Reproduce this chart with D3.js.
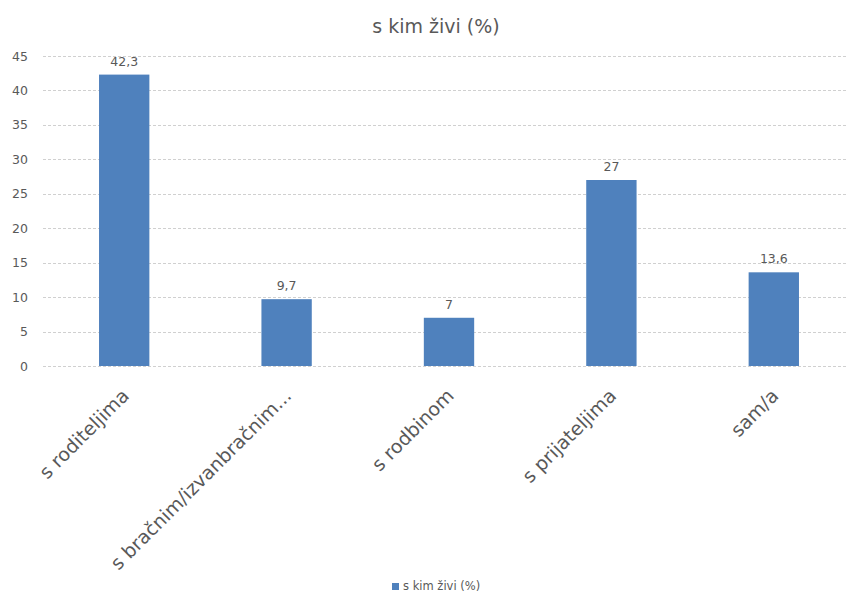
<!DOCTYPE html>
<html>
<head>
<meta charset="utf-8">
<script src="https://cdn.jsdelivr.net/npm/d3@7"></script>
<style>
  body { margin: 0; background: #fff; }
  svg { font-family: "DejaVu Sans", sans-serif; }
</style>
</head>
<body>
<svg id="chart" width="846" height="598"></svg>
<script>
// Living arrangement shares (%)
const categories = ["s roditeljima", "s bračnim/izvanbračnim...", "s rodbinom", "s prijateljima", "sam/a"];
const values = [42.3, 9.7, 7, 27, 13.6];
const valueLabels = ["42,3", "9,7", "7", "27", "13,6"];
const yTicks = [0, 5, 10, 15, 20, 25, 30, 35, 40, 45];
const seriesName = "s kim živi (%)";

const svg = d3.select("#chart");
const W = 846, H = 598;
const margin = { left: 43, right: -9, top: 56, bottom: 232 };
const font = "'DejaVu Sans', sans-serif";

const x = d3.scaleBand()
  .domain(categories)
  .range([margin.left, W - margin.right])
  .padding(0);

const y = d3.scaleLinear()
  .domain([0, 45])
  .range([H - margin.bottom, margin.top]);

const barW = x.step() * 0.31;
const grey = "#595959";
const barColor = "#4f81bd";

// Title
svg.append("text")
  .attr("x", 436).attr("y", 33)
  .attr("text-anchor", "middle")
  .attr("font-size", 19)
  .attr("fill", grey)
  .text(seriesName);

// Gridlines
svg.append("g")
  .selectAll("line")
  .data(yTicks)
  .join("line")
  .attr("x1", margin.left).attr("x2", W)
  .attr("y1", d => Math.round(y(d)) + 0.5)
  .attr("y2", d => Math.round(y(d)) + 0.5)
  .attr("stroke", "#d0d0d0")
  .attr("stroke-width", 1)
  .attr("stroke-dasharray", "3,2");

// Y axis labels
const yAxis = d3.axisLeft(y).tickValues(yTicks).tickSize(0).tickPadding(0);
svg.append("g")
  .attr("transform", "translate(28,0)")
  .call(yAxis)
  .call(g => g.select(".domain").remove())
  .call(g => g.selectAll("text")
    .attr("font-size", 12.5)
    .attr("fill", grey)
    .attr("font-family", font));

// Bars
svg.append("g")
  .selectAll("rect")
  .data(categories)
  .join("rect")
  .attr("x", d => x(d) + x.bandwidth() / 2 - barW / 2)
  .attr("width", barW)
  .attr("y", (d, i) => y(values[i]))
  .attr("height", (d, i) => y(0) - y(values[i]))
  .attr("fill", barColor);

// Data labels
svg.append("g")
  .selectAll("text")
  .data(categories)
  .join("text")
  .attr("x", d => x(d) + x.bandwidth() / 2)
  .attr("y", (d, i) => y(values[i]) - 9)
  .attr("text-anchor", "middle")
  .attr("font-size", 12.5)
  .attr("fill", grey)
  .text((d, i) => valueLabels[i]);

// X axis category labels, rotated
const xAxis = d3.axisBottom(x).tickSize(0).tickPadding(0);
svg.append("g")
  .attr("transform", `translate(0,${y(0)})`)
  .call(xAxis)
  .call(g => g.select(".domain").remove())
  .call(g => g.selectAll("text")
    .attr("font-size", 19)
    .attr("fill", grey)
    .attr("font-family", font)
    .attr("text-anchor", "end")
    .attr("dy", 0)
    .attr("transform", "translate(6,31) rotate(-45)"));

// Legend
const legend = svg.append("g").attr("transform", "translate(392,590)");
legend.append("rect").attr("x", 0).attr("y", -7).attr("width", 7).attr("height", 7).attr("fill", barColor);
legend.append("text").attr("x", 11).attr("y", 0).attr("font-size", 11.5).attr("fill", grey).text(seriesName);
</script>
</body>
</html>
